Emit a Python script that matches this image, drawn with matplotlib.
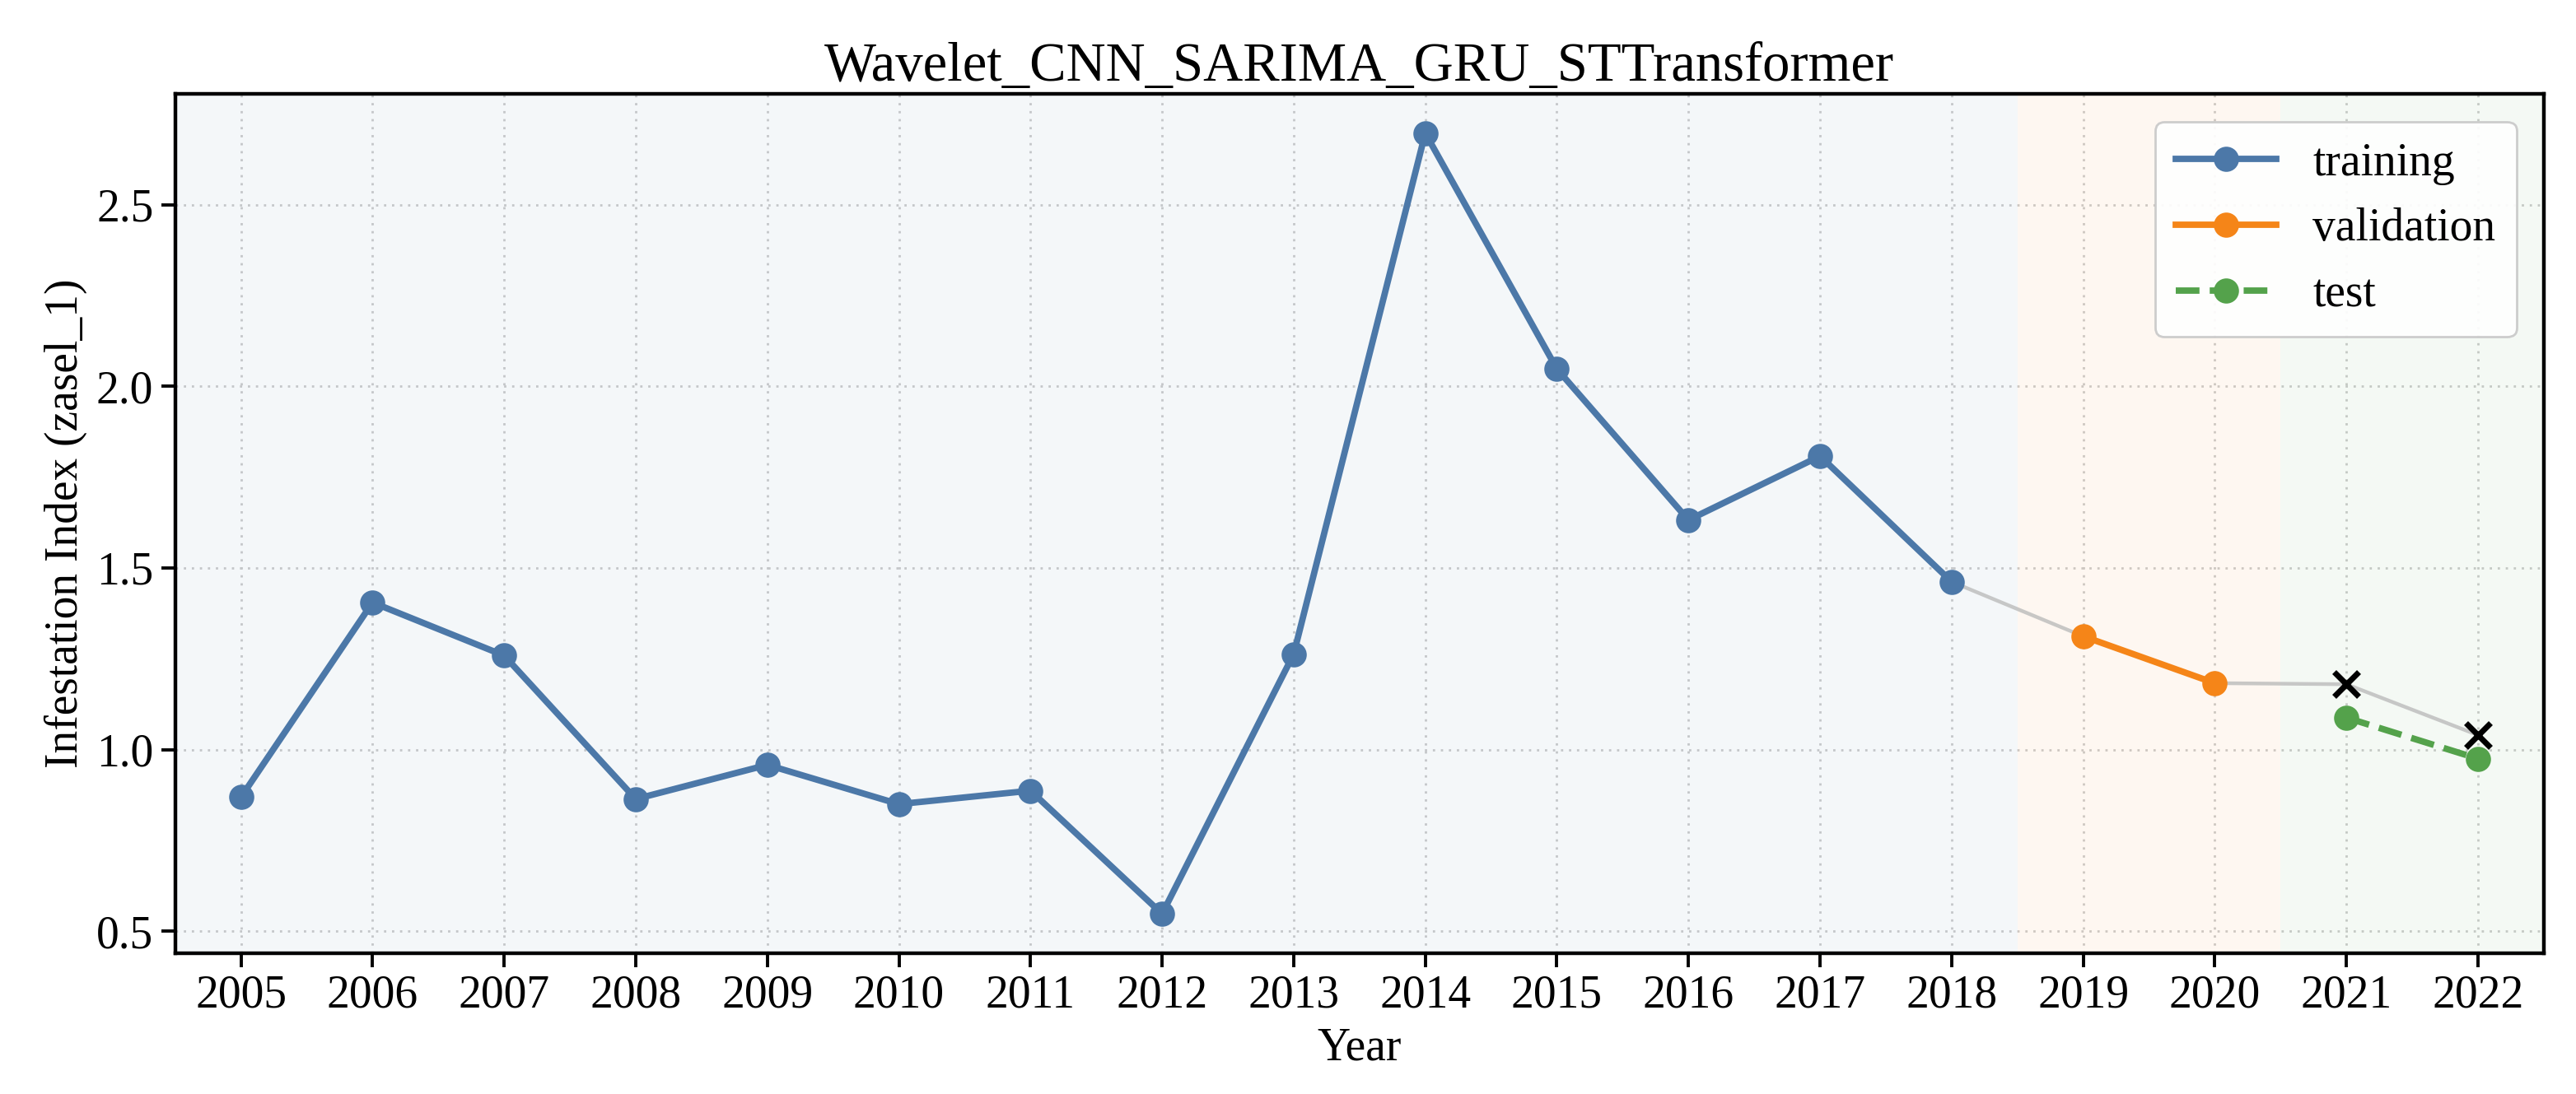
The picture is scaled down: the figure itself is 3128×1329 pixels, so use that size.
import numpy as np
import matplotlib
matplotlib.use("Agg")
import matplotlib.pyplot as plt

# Data
train_years = [2005, 2006, 2007, 2008, 2009, 2010, 2011, 2012, 2013, 2014, 2015, 2016, 2017, 2018]
train_vals = [0.869, 1.405, 1.259, 0.864, 0.958, 0.850, 0.887, 0.548, 1.263, 2.697, 2.048, 1.632, 1.808, 1.462]
val_years = [2019, 2020]
val_vals = [1.312, 1.183]
test_years = [2021, 2022]
test_vals = [1.088, 0.975]
actual_test_vals = [1.180, 1.040]   # black x markers

all_years = train_years + val_years + test_years
all_vals = train_vals + val_vals + actual_test_vals

c_train = '#4C78A8'
c_val = '#F58518'
c_test = '#54A24B'

plt.rcParams['font.family'] = ['Liberation Serif', 'DejaVu Serif']
plt.rcParams['font.size'] = 20
plt.rcParams['axes.linewidth'] = 1.6
plt.rcParams['xtick.major.size'] = 6
plt.rcParams['ytick.major.size'] = 6
plt.rcParams['xtick.major.width'] = 1.4
plt.rcParams['ytick.major.width'] = 1.4

fig = plt.figure(figsize=(15.64, 6.645), dpi=200)
ax = fig.add_subplot(111)
fig.subplots_adjust(left=0.068, right=0.9875, top=0.914, bottom=0.129)

# shaded periods
ax.axvspan(2004.5, 2018.5, color=c_train, alpha=0.06, lw=0)
ax.axvspan(2018.5, 2020.5, color=c_val, alpha=0.06, lw=0)
ax.axvspan(2020.5, 2022.5, color=c_test, alpha=0.06, lw=0)

# full series in gray
ax.plot(all_years, all_vals, color='#bbbbbb', lw=1.6, alpha=0.8, zorder=2)

ax.plot(train_years, train_vals, '-o', color=c_train, lw=2.8, ms=10, label='training', zorder=3)
ax.plot(val_years, val_vals, '-o', color=c_val, lw=2.8, ms=10, label='validation', zorder=3)
ax.plot(test_years, test_vals, '--o', color=c_test, lw=2.8, ms=10, label='test', zorder=3)
ax.plot(test_years, actual_test_vals, 'x', color='black', ms=11, mew=2.5, zorder=4)

ax.set_xlim(2004.5, 2022.5)
ax.set_xticks(all_years)
ax.set_yticks([0.5, 1.0, 1.5, 2.0, 2.5])
ax.grid(True, linestyle=(0, (1, 2.5)), color='#cccccc', lw=1.0)
ax.set_axisbelow(True)

ax.set_title('Wavelet_CNN_SARIMA_GRU_STTransformer', fontsize=24)
ax.set_xlabel('Year', fontsize=20)
ax.set_ylabel('Infestation Index (zasel_1)', fontsize=20)
ax.legend(loc='upper right', fontsize=20, framealpha=0.9, handlelength=2.2,
          borderpad=0.45, borderaxespad=0.6, edgecolor='#c8c8c8')

plt.savefig('out.png', dpi=200)
